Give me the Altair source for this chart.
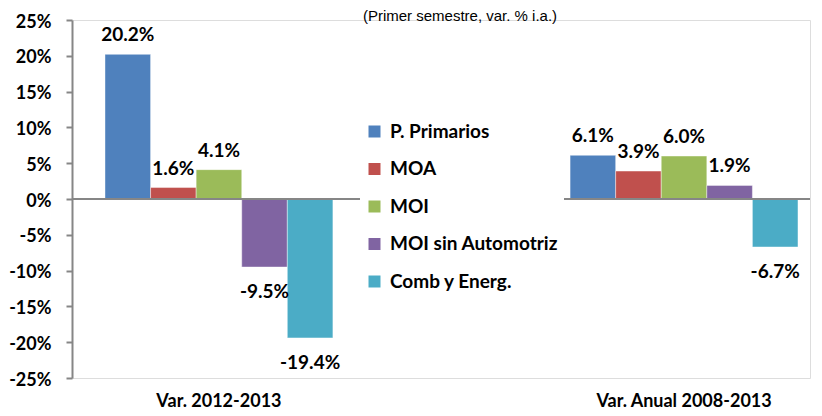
import altair as alt
import pandas as pd

categories = ["Var. 2012-2013", "Var. Anual 2008-2013"]
series = ["P. Primarios", "MOA", "MOI", "MOI sin Automotriz", "Comb y Energ."]
colors = ["#4F81BD", "#C0504D", "#9BBB59", "#8064A2", "#4BACC6"]
values_2012_2013 = [20.2, 1.6, 4.1, -9.5, -19.4]
values_anual_2008_2013 = [6.1, 3.9, 6.0, 1.9, -6.7]
y_ticks = [-25, -20, -15, -10, -5, 0, 5, 10, 15, 20, 25]
title_text = "(Primer semestre, var. % i.a.)"

rows = []
for cat, vals in zip(categories, [values_2012_2013, values_anual_2008_2013]):
    for s, v in zip(series, vals):
        rows.append({"cat": cat, "serie": s, "valor": v, "etiqueta": f"{v:.1f}%"})
df = pd.DataFrame(rows)

FONT = "Lato"
GRAY = "#868686"

x = alt.X(
    "cat:N",
    sort=categories,
    scale=alt.Scale(paddingInner=0.51, paddingOuter=0.0484, align=0.733),
    axis=alt.Axis(
        title=None, labelAngle=0, domain=False, ticks=False,
        labelFont=FONT, labelFontWeight="bold", labelFontSize=18,
        labelColor="black", labelPadding=14,
    ),
)
xo = alt.XOffset("serie:N", sort=series, scale=alt.Scale(paddingInner=0, paddingOuter=0))
y = alt.Y(
    "valor:Q",
    scale=alt.Scale(domain=[-25, 25], nice=False, zero=False),
    axis=alt.Axis(
        title=None, values=y_ticks, labelExpr="datum.value + '%'", grid=False,
        labelOverlap=False, labelOffset=2,
        domainColor=GRAY, domainWidth=2, tickColor=GRAY, tickWidth=2, tickSize=6,
        labelFont=FONT, labelFontWeight="bold", labelFontSize=18,
        labelColor="black", labelPadding=15,
    ),
)
color = alt.Color(
    "serie:N",
    sort=series,
    scale=alt.Scale(domain=series, range=colors),
    legend=alt.Legend(
        title=None, orient="none", legendX=288, legendY=97,
        symbolType="square", symbolSize=144, symbolStrokeWidth=0,
        labelFont=FONT, labelFontSize=19, labelFontWeight="bold", labelColor="black",
        labelLimit=300,
        rowPadding=17.5, fillColor="white", padding=5, labelOffset=6,
    ),
)

bars = alt.Chart(df).mark_bar(stroke="white", strokeWidth=0.6, strokeOpacity=0.7).encode(
    x=x, xOffset=xo, y=y, color=color
)
zero = alt.Chart(pd.DataFrame({"valor": [0]})).mark_rule(color=GRAY, strokeWidth=2).encode(
    y=y
)
pos = alt.Chart(df).transform_filter("datum.valor >= 0").mark_text(
    dy=-13, baseline="alphabetic", font=FONT, fontWeight="bold", fontSize=19, color="black"
).encode(x=x, xOffset=xo, y=y, text="etiqueta:N")
neg = alt.Chart(df).transform_filter("datum.valor < 0").mark_text(
    dy=31, baseline="alphabetic", font=FONT, fontWeight="bold", fontSize=19, color="black"
).encode(x=x, xOffset=xo, y=y, text="etiqueta:N")

chart = alt.layer(bars, zero, pos, neg).properties(
    width=738,
    height=358,
    padding={"left": 64, "top": 12, "right": 4, "bottom": 38},
    autosize=alt.AutoSizeParams(type="none"),
    title=alt.TitleParams(
        title_text, font="Liberation Sans", fontSize=15, fontWeight="normal",
        color="black", anchor="middle", dx=19, offset=-23, baseline="alphabetic",
        frame="group",
    ),
).configure_view(stroke=None).configure(background="white")

chart.save("out.html", embed_options={"renderer": "svg", "actions": False})
